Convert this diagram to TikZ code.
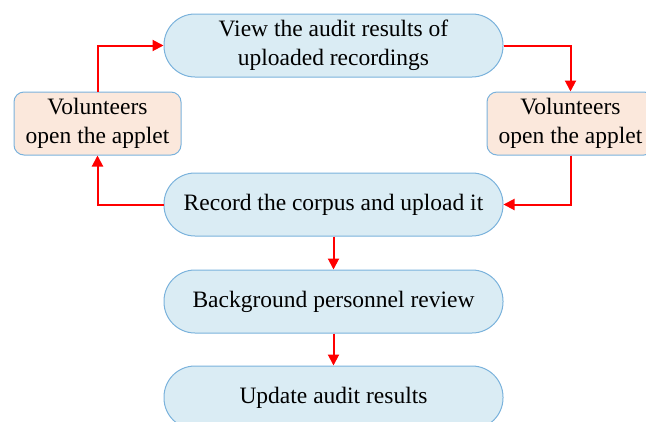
\documentclass[tikz,border=0pt]{standalone}
\usepackage{fontspec}
\setmainfont{Liberation Serif}
\usepackage{tikz}
\usetikzlibrary{positioning,arrows.meta}
\definecolor{boxBlue}{RGB}{218,236,244}
\definecolor{boxLine}{RGB}{122,178,220}
\definecolor{boxPeach}{RGB}{251,232,220}
\definecolor{arrRed}{RGB}{255,0,0}

\begin{document}
\begin{tikzpicture}[font=\fontsize{23.5}{29}\selectfont,
  stage/.style={draw=boxLine,fill=boxBlue,line width=1pt,rounded corners=31pt,minimum width=339pt,minimum height=63pt,align=center,inner sep=2pt},
  vol/.style={draw=boxLine,fill=boxPeach,line width=1pt,rounded corners=10pt,minimum width=167pt,minimum height=63pt,align=center,inner sep=2pt},
  arr/.style={-{Triangle[length=11pt,width=11pt]},arrRed,line width=2pt}]
\useasboundingbox (0,0) rectangle (646pt,-421pt);
% main column
\node[stage] (view) at (333.5pt,-45.5pt) {View the audit results of\\uploaded recordings};
\node[stage,below=95pt of view] (rec) {Record the corpus and upload it};
\node[stage,below=33pt of rec] (review) {Background personnel review};
\node[stage,below=32pt of review] (update) {Update audit results};
% side loops
\node[vol] (volL) at (97.5pt,-123.5pt) {Volunteers\\open the applet};
\node[vol] (volR) at (570.5pt,-123.5pt) {Volunteers\\open the applet};
\draw[arr] (volL.north) |- (view.west);
\draw[arr] (rec.west) -| (volL.south);
\draw[arr] (view.east) -| (volR.north);
\draw[arr] (volR.south) |- (rec.east);
\draw[arr] (rec.south) -- (review.north);
\draw[arr] (review.south) -- (update.north);
\end{tikzpicture}
\end{document}
